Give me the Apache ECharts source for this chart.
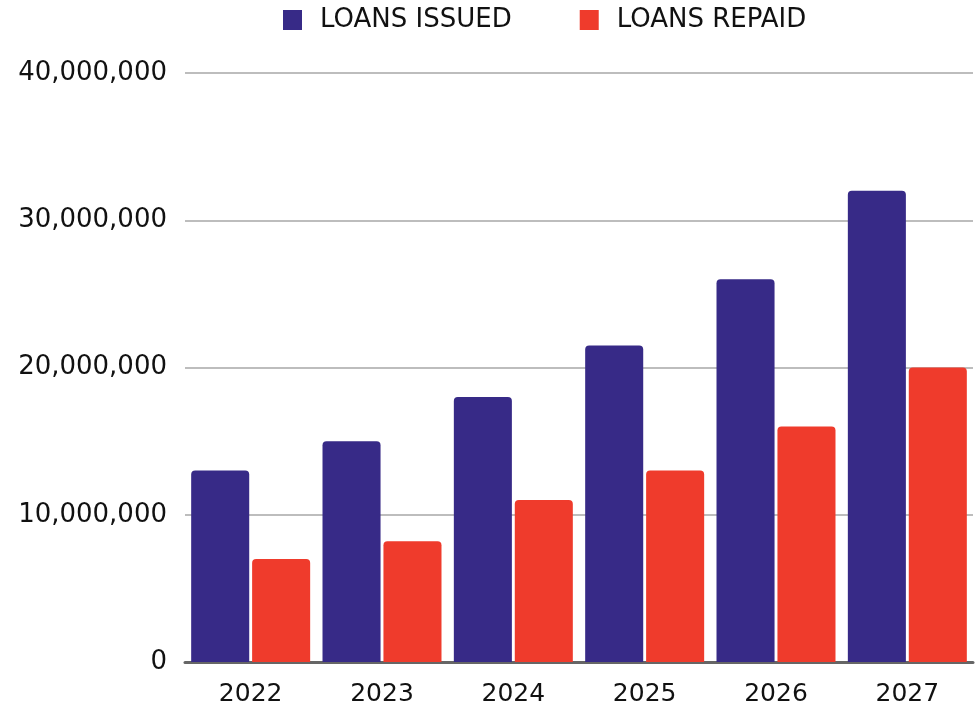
<!DOCTYPE html>
<html>
<head>
<meta charset="utf-8">
<script src="https://cdn.jsdelivr.net/npm/echarts@6/dist/echarts.min.js"></script>
<style>
  html, body { margin: 0; padding: 0; background: #ffffff; }
  #chart { width: 976px; height: 709px; }
</style>
</head>
<body>
<div id="chart"></div>
<script>
// Loan volumes by year
const years = ['2022', '2023', '2024', '2025', '2026', '2027'];
const loansIssued = [13000000, 15000000, 18000000, 21500000, 26000000, 32000000];
const loansRepaid = [7000000, 8200000, 11000000, 13000000, 16000000, 20000000];
const seriesNames = ['LOANS ISSUED', 'LOANS REPAID'];

const chart = echarts.init(document.getElementById('chart'), null, { renderer: 'canvas' });

const FONT = 'DejaVu Sans';
const INK = '#111111';

chart.setOption({
  animation: false,
  color: ['#372a87', '#ef3b2c'],
  legend: {
    top: 2,
    left: 278,
    itemWidth: 19,
    itemHeight: 20,
    itemGap: 68,
    icon: 'rect',
    textStyle: { fontFamily: FONT, fontSize: 26, color: INK, padding: [0, 0, 0, 13] },
    data: seriesNames
  },
  grid: { left: 185, right: 3, top: 73, bottom: 47, containLabel: false },
  xAxis: {
    type: 'category',
    data: years,
    axisLine: { lineStyle: { color: '#666666', width: 3 } },
    axisTick: { show: false },
    axisLabel: { margin: 20, fontFamily: FONT, fontSize: 25, color: INK }
  },
  yAxis: {
    type: 'value',
    min: 0,
    max: 40000000,
    interval: 10000000,
    axisLine: { show: false },
    axisTick: { show: false },
    splitLine: { lineStyle: { color: '#bdbdbd', width: 2 } },
    axisLabel: {
      margin: 18,
      fontFamily: FONT,
      fontSize: 26,
      color: INK,
      formatter: v => v.toLocaleString('en-US')
    }
  },
  series: [
    {
      name: seriesNames[0],
      type: 'bar',
      data: loansIssued,
      barGap: '5%',
      barCategoryGap: '9.4%',
      itemStyle: { borderRadius: [4, 4, 0, 0] }
    },
    {
      name: seriesNames[1],
      type: 'bar',
      data: loansRepaid,
      barGap: '5%',
      barCategoryGap: '9.4%',
      itemStyle: { borderRadius: [4, 4, 0, 0] }
    }
  ]
});
</script>
</body>
</html>
